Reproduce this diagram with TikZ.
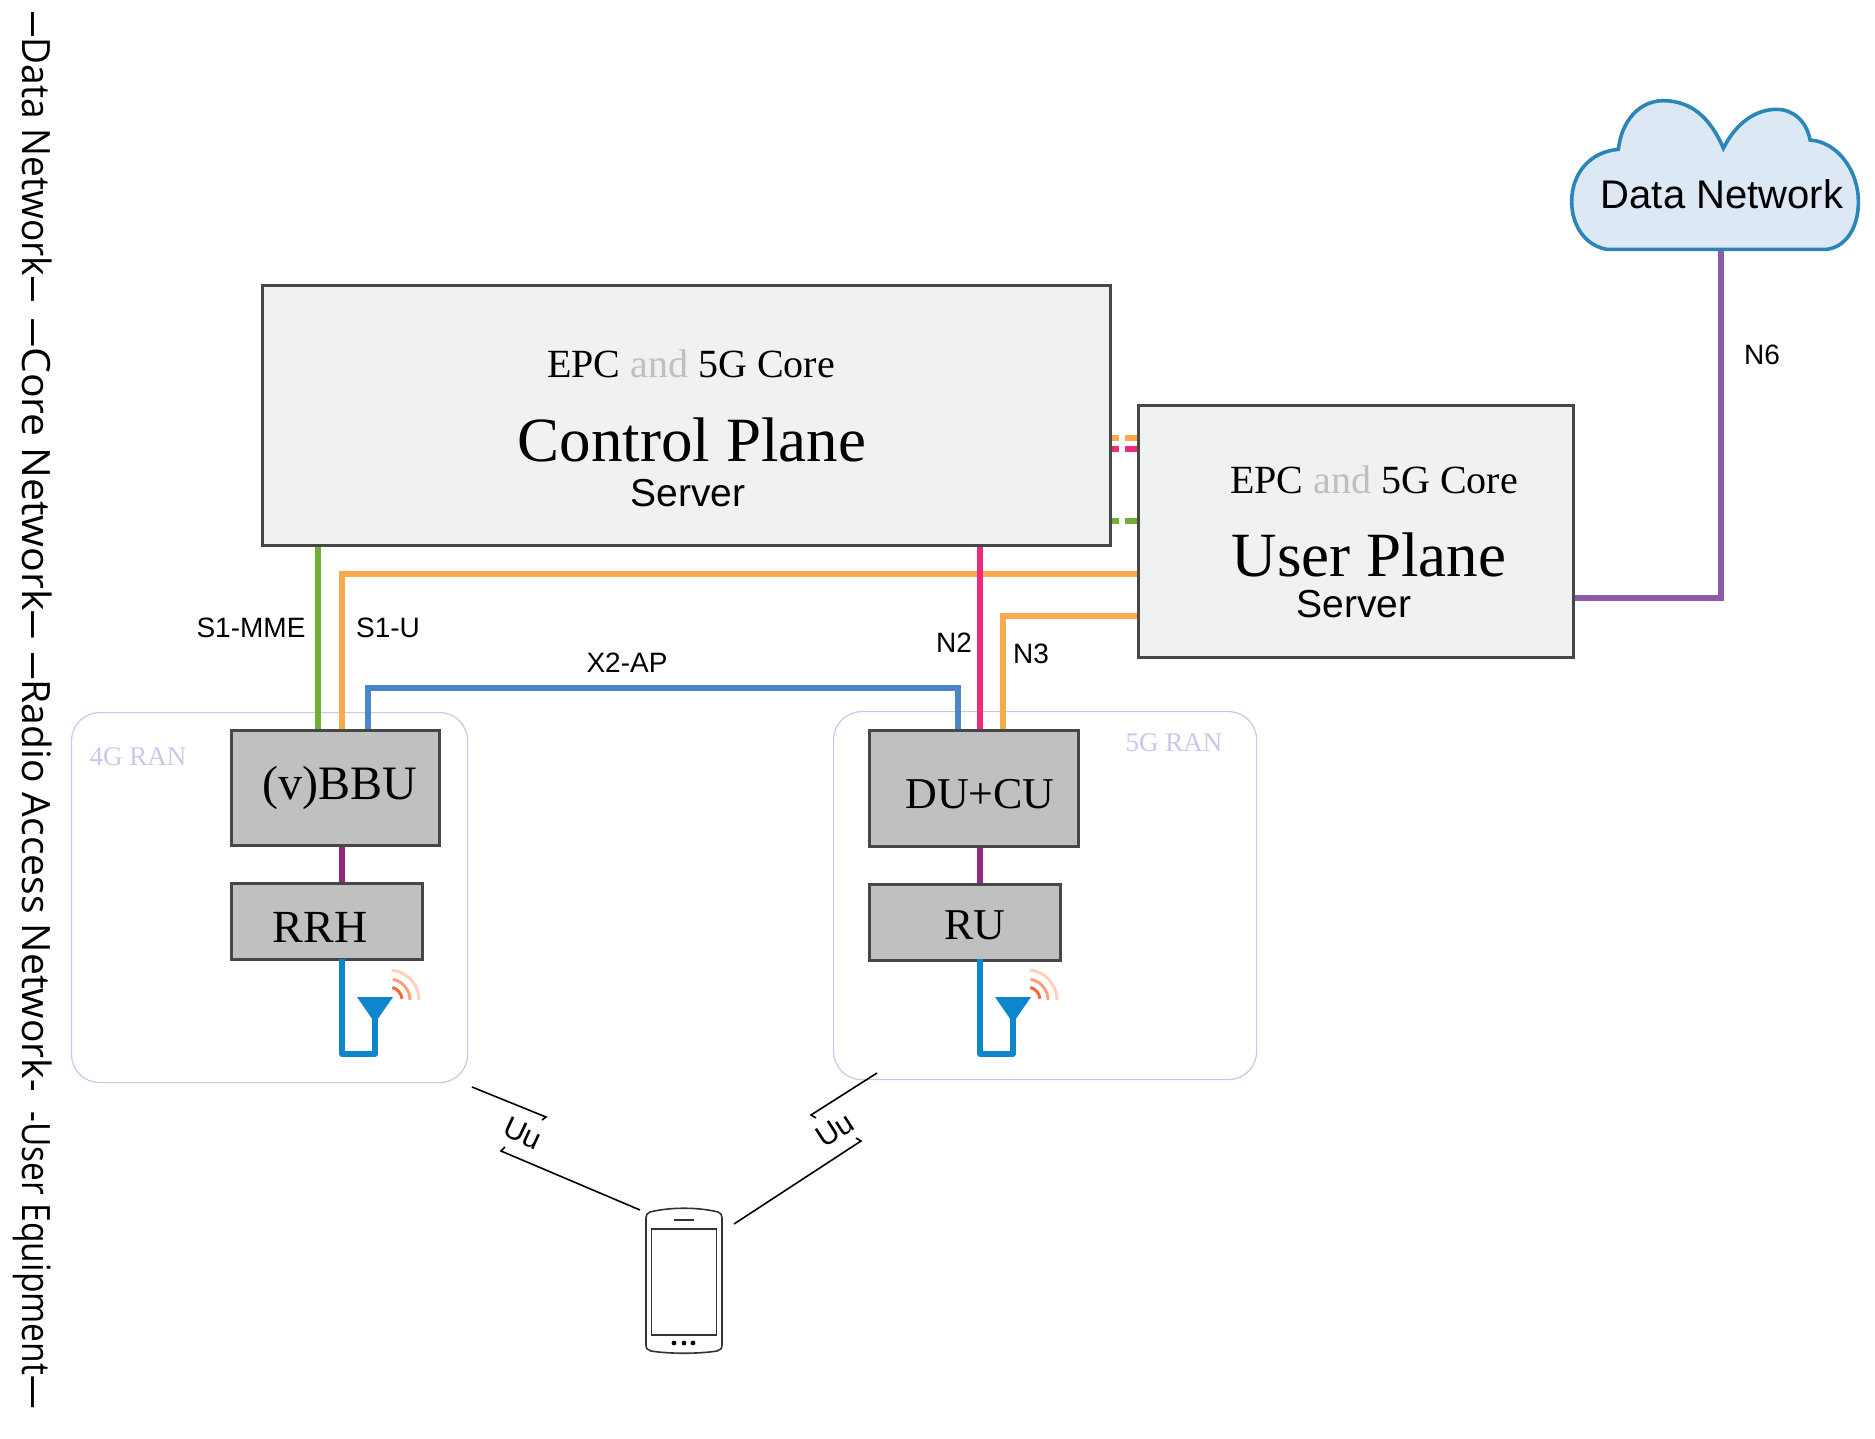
\documentclass[tikz,border=0pt]{standalone}
\usepackage{fontspec}
\setmainfont{Liberation Sans}
\newfontfamily\capfont{Liberation Serif}
\newfontfamily\sidefont{Open Sans}
\usetikzlibrary{calc,positioning}
\definecolor{boxline}{HTML}{474747}
\definecolor{srvfill}{HTML}{F0F2F2}
\definecolor{ranfill}{HTML}{C0C0C0}
\definecolor{ranline}{HTML}{CBC6EC}
\definecolor{ifgreen}{HTML}{72AE35}
\definecolor{iforange}{HTML}{F9A94E}
\definecolor{ifpink}{HTML}{EE2A7B}
\definecolor{ifblue}{HTML}{4A86C8}
\definecolor{ifviolet}{HTML}{8A5CA8}
\definecolor{ifplum}{HTML}{93297F}
\definecolor{antblue}{HTML}{0E86CC}
\definecolor{cloudfill}{HTML}{DCE8F4}
\definecolor{cloudline}{HTML}{2A86B8}
\tikzset{
  srvbox/.style={draw=boxline,line width=1.5pt,fill=srvfill,anchor=north west,inner sep=0pt},
  ranbox/.style={draw=boxline,line width=1.5pt,fill=ranfill,anchor=north west,inner sep=0pt},
  ranarea/.style={draw=ranline,line width=.6pt,rounded corners=14pt,anchor=north west,inner sep=0pt},
  iflink/.style={line width=2.6pt},
  ifdash/.style={line width=2.6pt,dash pattern=on 3.5pt off 3pt on 7pt off 10pt},
  lbl/.style={font=\fontsize{14}{14}\selectfont,inner sep=0pt},
  srvlbl/.style={font=\fontsize{19.5}{20}\selectfont,inner sep=0pt},
  epclbl/.style={font=\capfont\fontsize{20}{20}\selectfont,inner sep=0pt},
  planelbl/.style={font=\capfont\fontsize{31.5}{32}\selectfont,inner sep=0pt},
  ranlbl/.style={font=\capfont\fontsize{#1}{#1}\selectfont,inner sep=0pt},
  arealbl/.style={font=\capfont\fontsize{13.5}{14}\selectfont,inner sep=0pt,text=ranline},
  sidelbl/.style={font=\sidefont\fontsize{19.5}{20}\selectfont,inner sep=0pt,rotate=-90,anchor=base},
  uulink/.style={line width=.8pt,black},
  wave/.style={line width=1.5pt}
}
\newcommand{\epctext}{EPC \textcolor{black!25}{and} 5G Core}
\newcommand{\sidetext}[2]{\scalebox{#1}[1]{#2}}
\newcommand{\sdash}{\scalebox{.7}[1]{—}}
\begin{document}
\begin{tikzpicture}[x=.5pt,y=-.5pt]
\useasboundingbox (0,0) rectangle (1875,1439);
\node[sidelbl] (sdata) at (22,157) {\sidetext{.95}{\sdash Data Network\sdash}};
\node[sidelbl] (score) at (22,479) {\sidetext{1.05}{\sdash Core Network\sdash}};
\node[sidelbl] (sradio) at (22,872) {\sidetext{1}{\sdash Radio Access Network-}};
\node[sidelbl] (suser) at (22,1260) {\sidetext{.86}{-User Equipment—}};

\node[ranarea,minimum width=198pt,minimum height=185pt] (ran4) at (71,712) {};
\node[ranarea,minimum width=211.5pt,minimum height=184pt] (ran5) at (833,711) {};
\node[arealbl] (l4g) at (138,757) {4G RAN};
\node[arealbl] (l5g) at (1174,743) {5G RAN};

\node[srvbox,minimum width=424pt,minimum height=130pt] (cp) at (261,284) {};
\node[srvbox,minimum width=217.5pt,minimum height=126pt] (up) at (1137,404) {};
\node[ranbox,minimum width=104pt,minimum height=57.5pt] (bbu) at (230,729) {};
\node[ranbox,minimum width=95.5pt,minimum height=38pt] (rrh) at (230,882) {};
\node[ranbox,minimum width=104.5pt,minimum height=58pt] (ducu) at (868,729) {};
\node[ranbox,minimum width=95.5pt,minimum height=38pt] (ru) at (868,883) {};

\node[epclbl] (cpepc) at (691,364) {\epctext};
\node[planelbl] (cpname) at (692,440) {Control Plane};
\node[srvlbl] (cpsrv) at (688,493) {Server};
\node[epclbl] (upepc) at (1374,480) {\epctext};
\node[planelbl] (upname) at (1369,555) {User Plane};
\node[srvlbl] (upsrv) at (1354,604) {Server};
\node[ranlbl=24] (lbbu) at (340,788) {(v)BBU};
\node[ranlbl=23] (lrrh) at (320,927) {RRH};
\node[ranlbl=22] (lducu) at (980,794) {DU+CU};
\node[ranlbl=22] (lru) at (975,925) {RU};

% cloud
\begin{scope}[shift={(1550,80)},x=.1667pt,y=-.1667pt]
\draw[draw=cloudline,fill=cloudfill,line width=1.8pt] (170,508) .. controls (100,495) and (65,430) .. (65,365)
 .. controls (65,280) and (120,215) .. (205,208)
 .. controls (215,120) and (270,62) .. (340,62)
 .. controls (420,62) and (480,110) .. (520,205)
 .. controls (560,125) and (620,88) .. (680,88)
 .. controls (730,88) and (770,125) .. (780,180)
 .. controls (860,185) and (925,270) .. (925,365)
 .. controls (925,440) and (890,500) .. (830,508) -- cycle;
\end{scope}
\node[srvlbl,font=\fontsize{20}{20}\selectfont] (dn) at (1722,194) {Data Network};
\coordinate (dnb) at (1721,251);

\coordinate (xgreen) at (318,0);
\coordinate (xorange) at (342,0);
\coordinate (xblue) at (368,0);
\coordinate (xblue2) at (958,0);
\coordinate (xpink) at (980,0);
\coordinate (xn3) at (1003,0);
\coordinate (ys1u) at (0,574);
\coordinate (yx2) at (0,688);
\coordinate (yn3) at (0,616);
\coordinate (yn6) at (0,598);
\coordinate (yo) at (0,438);
\coordinate (yp) at (0,449);
\coordinate (yg) at (0,521);

\draw[iflink,ifgreen] (cp.south -| xgreen) -- (bbu.north -| xgreen);
\draw[iflink,iforange] (up.west |- ys1u) -| (bbu.north -| xorange);
\draw[iflink,ifblue] (bbu.north -| xblue) |- (yx2 -| xblue2) -- (ducu.north -| xblue2);
\draw[iflink,ifpink] (cp.south -| xpink) -- (ducu.north -| xpink);
\draw[iflink,iforange] (up.west |- yn3) -| (ducu.north -| xn3);
\draw[iflink,ifviolet] (up.east |- yn6) -| (dnb);
\draw[ifdash,iforange] (cp.east |- yo) -- (up.west |- yo);
\draw[ifdash,ifpink] (cp.east |- yp) -- (up.west |- yp);
\draw[ifdash,ifgreen] (cp.east |- yg) -- (up.west |- yg);
\draw[iflink,ifplum] (bbu.south -| xorange) -- (rrh.north -| xorange);
\draw[iflink,ifplum] (ducu.south -| xpink) -- (ru.north -| xpink);

\node[lbl] (ls1mme) at (251,628) {S1-MME};
\node[lbl] (ls1u) at (388,628) {S1-U};
\node[lbl] (lx2) at (627,663) {X2-AP};
\node[lbl] (ln2) at (954,643) {N2};
\node[lbl] (ln3) at (1031,654) {N3};
\node[lbl] (ln6) at (1762,355) {N6};

% antennas
\foreach \sx in {0,638} {
\begin{scope}[xshift=\sx*.5pt]
\draw[line width=3pt,antblue,line join=round] (342,959) -- (342,1054) -- (375,1054) -- (375,1015);
\fill[antblue] (357,997) -- (393,997) -- (375,1023) -- cycle;
\draw[wave,color=orange!50!red!80] (389,1000) ++(-75:13) arc (-75:-5:13);
\draw[wave,color=orange!50!red!50] (389,1000) ++(-80:21) arc (-80:0:21);
\draw[wave,color=orange!50!red!25] (389,1000) ++(-85:30) arc (-85:0:30);
\end{scope}
}

% phone
\coordinate (ph1) at (640,1210);
\coordinate (ph2) at (734,1224);
\draw[line width=.8pt,black!80] (650,1212) .. controls (670,1207) and (698,1207) .. (718,1212)
 .. controls (721,1213) and (722,1215) .. (722,1218) -- (722,1345)
 .. controls (722,1349) and (720,1350) .. (717,1351)
 .. controls (698,1354) and (670,1354) .. (651,1351)
 .. controls (648,1350) and (646,1349) .. (646,1345) -- (646,1218)
 .. controls (646,1215) and (647,1213) .. (650,1212) -- cycle;
\draw[line width=.7pt,black!80] (651.5,1229) rectangle (716.5,1335);
\draw[line width=.6pt,black!80] (674,1220) -- (694,1220);
\foreach \dx in {674,684,693} \fill (\dx,1343) circle (2.4);

% Uu links
\coordinate (ul1) at (472,1087);
\coordinate (ul2) at (546,1117);
\coordinate (ul2t) at (542,1120);
\coordinate (ul3t) at (505,1147);
\coordinate (ul3) at (501,1151);
\coordinate (ur1) at (877,1073);
\coordinate (ur2) at (811,1115);
\coordinate (ur2t) at (816,1118);
\coordinate (ur3t) at (856,1138);
\coordinate (ur3) at (861,1141);
\draw[uulink] (ul1) -- (ul2) -- (ul2t);
\draw[uulink] (ph1) -- (ul3) -- (ul3t);
\draw[uulink] (ur1) -- (ur2) -- (ur2t);
\draw[uulink] (ph2) -- (ur3) -- (ur3t);
\node[lbl,font=\fontsize{15}{15}\selectfont,rotate=-25] (uul) at (523,1133) {Uu};
\node[lbl,font=\fontsize{15}{15}\selectfont,rotate=33] (uur) at (835,1130) {Uu};
\end{tikzpicture}
\end{document}
